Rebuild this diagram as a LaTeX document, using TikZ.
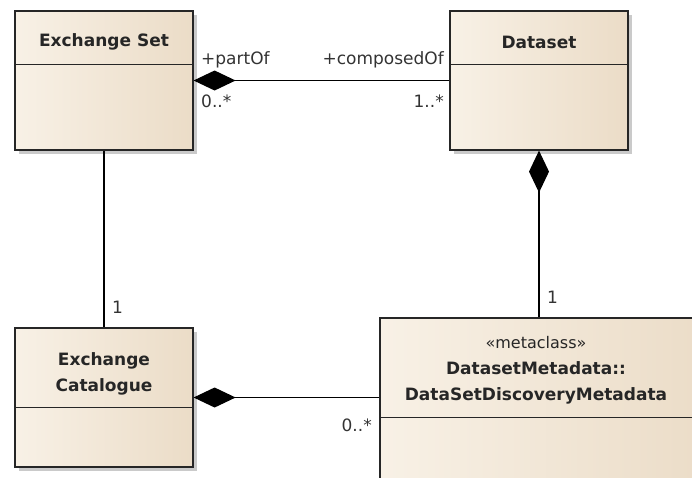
\documentclass[tikz,border=0pt]{standalone}
\usepackage{fontspec}
\setmainfont{DejaVu Sans}
\usetikzlibrary{arrows.meta,shadows}
\definecolor{boxL}{HTML}{F8F1E6}
\definecolor{boxR}{HTML}{EBDCC7}
\tikzset{
  classbox/.style={draw=black!85, line width=1.2pt, left color=boxL, right color=boxR,
    drop shadow={shadow xshift=4pt, shadow yshift=-4pt, fill=gray!70, opacity=0.6},
    inner sep=0pt},
  sepline/.style={draw=black!85, line width=1.2pt},
  cname/.style={font=\fontsize{17}{26}\selectfont\bfseries, align=center, inner sep=0pt, text=black!85},
  lbl/.style={font=\fontsize{17}{20}\selectfont, inner sep=0pt, text=black!80},
  conn/.style={draw=black, line width=1.2pt},
  comp/.style={conn, {Diamond[length=42pt,width=20pt]}-}
}
\begin{document}
\begin{tikzpicture}[x=1pt,y=-1pt]
\useasboundingbox (0,0) rectangle (692,477);
\clip (0,0) rectangle (692,477);
% classes
\node[classbox, minimum width=178pt, minimum height=139pt] (es) at (104,80.5) {};
\node[classbox, minimum width=178pt, minimum height=139pt] (ds) at (539,80.5) {};
\node[classbox, minimum width=178pt, minimum height=139pt] (ec) at (104,397.5) {};
\node[classbox, minimum width=330pt, minimum height=190pt] (md) at (545,413) {};
% separators
\draw[sepline] ([yshift=-54pt]es.north west) -- ([yshift=-54pt]es.north east);
\draw[sepline] ([yshift=-54pt]ds.north west) -- ([yshift=-54pt]ds.north east);
\draw[sepline] ([yshift=-80pt]ec.north west) -- ([yshift=-80pt]ec.north east);
\draw[sepline] ([yshift=-100pt]md.north west) -- ([yshift=-100pt]md.north east);
% names
\node[cname] (esname) at (104,42) {Exchange Set};
\node[cname] (dsname) at (539,42) {Dataset};
\node[cname] (ecname) at (104,374) {Exchange\\Catalogue};
\node[cname, font=\fontsize{16}{19}\selectfont] (mdster) at (536,343) {«metaclass»};
\node[cname] (mdname) at (536,383) {DatasetMetadata::\\DataSetDiscoveryMetadata};
% connectors
\draw[comp] (es.east) -- (ds.west);
\draw[conn] (es.south) -- (ec.north);
\draw[comp] (ds.south) -- (ds.south |- md.north);
\draw[comp] (ec.east) -- (ec.east -| md.west);
% labels
\node[lbl, anchor=west] (l1) at (201,60) {+partOf};
\node[lbl, anchor=west] (l2) at (201,101) {0..*};
\node[lbl, anchor=east] (l3) at (444,60) {+composedOf};
\node[lbl, anchor=east] (l4) at (444,101) {1..*};
\node[lbl, anchor=west] (l5) at (112,307) {1};
\node[lbl, anchor=west] (l6) at (547,297) {1};
\node[lbl, anchor=east] (l7) at (372,425) {0..*};
\end{tikzpicture}
\end{document}
